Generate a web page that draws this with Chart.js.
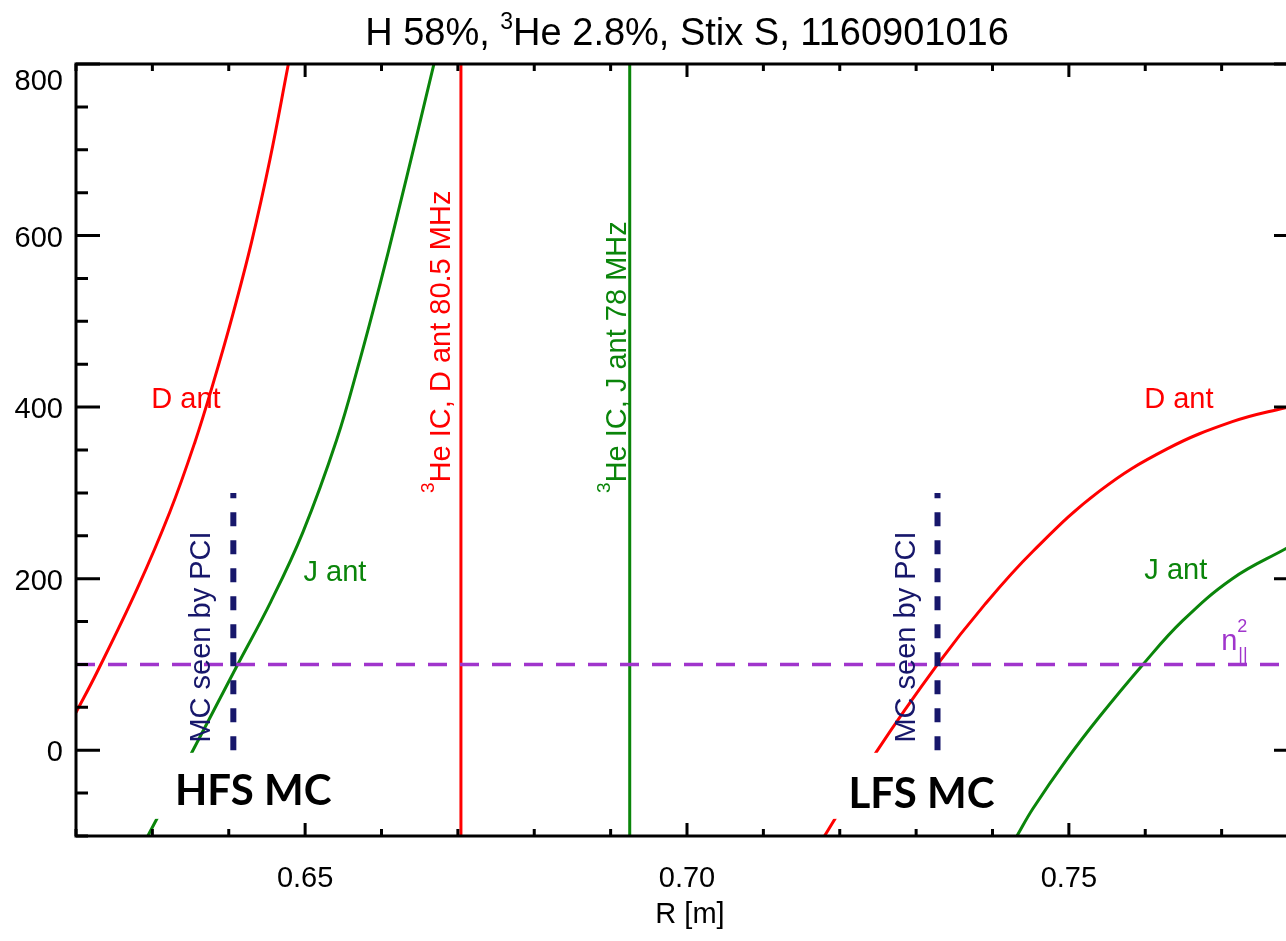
<!DOCTYPE html>
<html>
<head>
<meta charset="utf-8">
<title>Stix S</title>
<script src="https://cdn.jsdelivr.net/npm/chart.js@4.4.1/dist/chart.umd.min.js"></script>
<style>
  html, body { margin: 0; padding: 0; background: #fff; overflow: hidden; }
  #wrap { width: 1320px; height: 941px; }
</style>
</head>
<body>
<div id="wrap"><canvas id="stixChart" width="1320" height="941"></canvas></div>
<script>
// R [m] and value for each curve
const dAntHfsR = [0.6200, 0.6227, 0.6280, 0.6323, 0.6356, 0.6379, 0.6405, 0.6430, 0.6454, 0.6477, 0.6481];
const dAntHfsV = [44, 90, 188, 278, 360, 426, 507, 593, 689, 795, 814];

const jAntHfsR = [0.6294, 0.6352, 0.6410, 0.6455, 0.6497, 0.6541, 0.6572, 0.6598, 0.6620, 0.6646, 0.6670, 0.6676];
const jAntHfsV = [-100, -2, 97, 173, 254, 361, 456, 543, 621, 716, 805, 826];

const dAntLfsR = [0.7180, 0.7248, 0.7328, 0.7390, 0.7453, 0.7540, 0.7628, 0.7714, 0.7782, 0.7800];
const dAntLfsV = [-100, -2, 100, 170, 232, 302, 351, 383, 399, 402];

const jAntLfsR = [0.7432, 0.7453, 0.7497, 0.7540, 0.7597, 0.7649, 0.7714, 0.7782, 0.7800];
const jAntLfsV = [-100, -68, -11, 39, 100, 151, 200, 234, 242];

// resonance positions and markers
const heIcDantR = 0.6704;
const heIcJantR = 0.6925;
const mcPciR = [0.6406, 0.7328];
const mcPciV = [0, 300];
const nParSq = 100;

const xRange = [0.62, 0.78];
const yRange = [-100, 800];
const xTickLabels = ['0.65', '0.70', '0.75'];
const yTickLabels = ['800', '600', '400', '200', '0'];

const RED = '#ff0000';
const GREEN = '#0a850a';
const NAVY = '#17176b';
const PURPLE = '#a035cc';
const FONT = '"Liberation Sans", Arial, Helvetica, sans-serif';

const pts = (xs, ys) => xs.map((x, i) => ({ x, y: ys[i] }));

function curve(xs, ys, color) {
  return {
    data: pts(xs, ys),
    borderColor: color,
    borderWidth: 3,
    pointRadius: 0,
    tension: 0.4,
    fill: false,
  };
}

function straight(xs, ys, color, width, dash) {
  return {
    data: pts(xs, ys),
    borderColor: color,
    borderWidth: width,
    borderDash: dash || [],
    pointRadius: 0,
    tension: 0,
    fill: false,
  };
}

function drawRotated(ctx, text, sup, px, py, color) {
  ctx.save();
  ctx.translate(px, py);
  ctx.rotate(-Math.PI / 2);
  ctx.fillStyle = color;
  ctx.textAlign = 'left';
  ctx.textBaseline = 'alphabetic';
  let off = 0;
  if (sup) {
    ctx.font = `19px ${FONT}`;
    ctx.fillText(sup, 0, -16);
    off = ctx.measureText(sup).width;
  }
  ctx.font = `29px ${FONT}`;
  ctx.fillText(text, off, 0);
  ctx.restore();
}

const overlay = {
  id: 'overlay',
  afterDatasetsDraw(chart) {
    const { ctx, chartArea: a, scales: { x, y } } = chart;
    const px = (v) => x.getPixelForValue(v);
    const py = (v) => y.getPixelForValue(v);

    ctx.save();

    // white boxes behind the bold labels
    ctx.fillStyle = '#fff';
    [[0.6303, 0.6540], [0.7188, 0.7420]].forEach(([r0, r1]) => {
      ctx.fillRect(px(r0), py(-3), px(r1) - px(r0), py(-80) - py(-3));
    });
    ctx.fillStyle = '#000';
    ctx.font = `bold 42px Lato, "Open Sans", sans-serif`;
    ctx.textAlign = 'center';
    ctx.textBaseline = 'middle';
    ctx.fillText('HFS MC', px(0.6432), py(-48));
    ctx.fillText('LFS MC', px(0.7307), py(-51));

    // curve labels
    ctx.font = `29px ${FONT}`;
    ctx.fillStyle = RED;
    ctx.fillText('D ant', px(0.6344), py(408));
    ctx.fillText('D ant', px(0.7644), py(408));
    ctx.fillStyle = GREEN;
    ctx.fillText('J ant', px(0.6539), py(207));
    ctx.fillText('J ant', px(0.7640), py(209));

    // n||^2
    ctx.fillStyle = PURPLE;
    ctx.textAlign = 'left';
    ctx.textBaseline = 'alphabetic';
    ctx.font = `29px ${FONT}`;
    const nx = px(0.7710) - 8;
    const ny = py(127) + 9;
    ctx.fillText('n', nx, ny);
    ctx.font = `18px ${FONT}`;
    ctx.fillText('2', nx + 16, ny - 18);
    ctx.fillText('||', nx + 17, ny + 10);

    // vertical texts
    drawRotated(ctx, 'He IC, D ant 80.5 MHz', '3', px(heIcDantR) - 11, py(300), RED);
    drawRotated(ctx, 'He IC, J ant 78 MHz', '3', px(heIcJantR) - 4, py(300), GREEN);

    ctx.fillStyle = NAVY;
    ctx.font = `29px ${FONT}`;
    mcPciR.forEach((r) => {
      ctx.save();
      ctx.translate(px(r) - 31, py(132));
      ctx.rotate(-Math.PI / 2);
      ctx.textAlign = 'center';
      ctx.textBaseline = 'middle';
      ctx.fillText('MC seen by PCI', 0, 0);
      ctx.restore();
    });

    // frame and inward ticks
    ctx.strokeStyle = '#000';
    ctx.lineWidth = 3;
    ctx.strokeRect(a.left, a.top, a.right - a.left, a.bottom - a.top);
    ctx.beginPath();
    for (let i = 62; i <= 78; i++) {
      const xx = px(i / 100);
      const len = i % 5 === 0 ? 13 : 7;
      ctx.moveTo(xx, a.bottom); ctx.lineTo(xx, a.bottom - len);
      ctx.moveTo(xx, a.top); ctx.lineTo(xx, a.top + len);
    }
    for (let v = yRange[0]; v <= yRange[1]; v += 50) {
      const yy = py(v);
      const len = v % 200 === 0 ? 24 : 12;
      ctx.moveTo(a.left, yy); ctx.lineTo(a.left + len, yy);
      ctx.moveTo(a.right, yy); ctx.lineTo(a.right - len, yy);
    }
    ctx.stroke();

    // tick labels
    ctx.fillStyle = '#000';
    ctx.font = `29px ${FONT}`;
    ctx.textAlign = 'center';
    ctx.textBaseline = 'middle';
    xTickLabels.forEach((t) => ctx.fillText(t, px(parseFloat(t)), a.bottom + 43));
    ctx.textAlign = 'right';
    yTickLabels.forEach((t) => {
      const yy = Math.max(py(parseFloat(t)) + 3, a.top + 18);
      ctx.fillText(t, a.left - 13, yy);
    });
    ctx.textAlign = 'center';
    ctx.fillText('R [m]', (a.left + a.right) / 2 + 3, a.bottom + 79);

    // title
    const t1 = 'H 58%, ';
    const t2 = 'He 2.8%, Stix S, 1160901016';
    ctx.font = `38px ${FONT}`;
    const w1 = ctx.measureText(t1).width;
    const w3 = ctx.measureText(t2).width;
    ctx.font = `23px ${FONT}`;
    const w2 = ctx.measureText('3').width;
    const tx = (a.left + a.right) / 2 - (w1 + w2 + w3) / 2;
    const ty = 45;
    ctx.textAlign = 'left';
    ctx.textBaseline = 'alphabetic';
    ctx.font = `38px ${FONT}`;
    ctx.fillText(t1, tx, ty);
    ctx.font = `23px ${FONT}`;
    ctx.fillText('3', tx + w1, ty - 16);
    ctx.font = `38px ${FONT}`;
    ctx.fillText(t2, tx + w1 + w2, ty);

    ctx.restore();
  },
};

function initChart() {
  const el = document.getElementById('stixChart');
  return new Chart(el, {
    type: 'line',
    data: {
      datasets: [
        straight([mcPciR[0], mcPciR[0]], mcPciV, NAVY, 6, [14, 14]),
        straight([mcPciR[1], mcPciR[1]], mcPciV, NAVY, 6, [14, 14]),
        straight(xRange, [nParSq, nParSq], PURPLE, 3.5, [19, 13]),
        curve(dAntHfsR, dAntHfsV, RED),
        curve(jAntHfsR, jAntHfsV, GREEN),
        curve(dAntLfsR, dAntLfsV, RED),
        curve(jAntLfsR, jAntLfsV, GREEN),
        straight([heIcDantR, heIcDantR], yRange, RED, 3),
        straight([heIcJantR, heIcJantR], yRange, GREEN, 3),
      ],
    },
    options: {
      responsive: false,
      animation: false,
      events: [],
      layout: { padding: { top: 64, right: 22, left: 0, bottom: 0 } },
      plugins: {
        legend: { display: false },
        tooltip: { enabled: false },
        title: { display: false },
      },
      scales: {
        x: {
          type: 'linear',
          min: xRange[0],
          max: xRange[1],
          grid: { display: false },
          border: { display: false },
          ticks: { display: false },
          afterFit(s) { s.height = 105; },
        },
        y: {
          type: 'linear',
          min: yRange[0],
          max: yRange[1],
          grid: { display: false },
          border: { display: false },
          ticks: { display: false },
          afterFit(s) { s.width = 76; },
        },
      },
    },
    plugins: [overlay],
  });
}

document.addEventListener('DOMContentLoaded', () => {
  initChart();
});
</script>
</body>
</html>
